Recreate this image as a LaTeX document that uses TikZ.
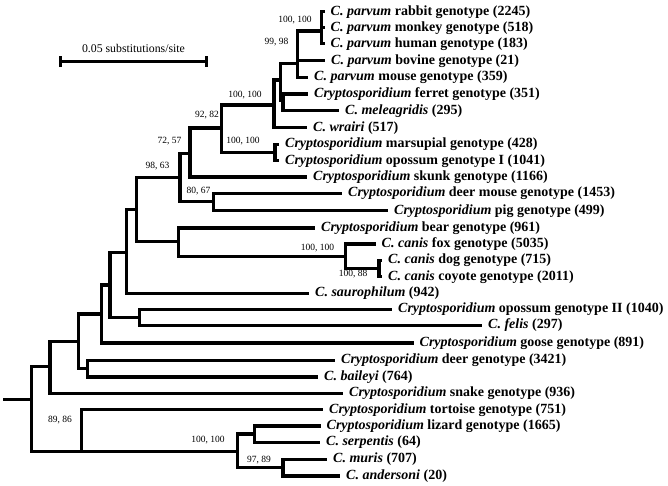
\documentclass[tikz,border=0pt]{standalone}
\usepackage{fontspec}
\setmainfont{Liberation Serif}
\usetikzlibrary{arrows.meta}

\tikzset{
	leaf/.style={anchor=west, inner xsep=6pt, inner ysep=0pt, font=\bfseries\fontsize{14}{14}\selectfont},
	boot/.style={inner sep=0pt, font=\fontsize{9.5}{10}\selectfont},
	branch/.style={line width=3.1pt}
}

\begin{document}
\begin{tikzpicture}[x=1pt,y=-1pt]
		\useasboundingbox[fill=white] (0,0) rectangle (668,486);

		% scale bar
		\coordinate (barL) at (59,61.7);
		\coordinate (barR) at (208,61.7);
		\node[inner sep=0pt, font=\fontsize{11.8}{12}\selectfont] (barlabel) at (133.5,48) {0.05 substitutions/site};

		% inner nodes of the tree
		\coordinate (stem) at (3,399.3);
		\coordinate (nRoot) at (31.7,399.3);
		\coordinate (nM) at (50,366.7);
		\coordinate (nL) at (78.3,341.7);
		\coordinate (nK) at (101.3,314);
		\coordinate (nJ) at (110,285);
		\coordinate (nI) at (126.7,252.3);
		\coordinate (nH) at (136.7,209.3);
		\coordinate (nF) at (180,177.3);
		\coordinate (nE) at (190,153.3);
		\coordinate (nD) at (221.7,128);
		\coordinate (nC) at (274,105);
		\coordinate (nB) at (280.5,80);
		\coordinate (nParvum) at (297.5,63.3);
		\coordinate (nRmh) at (321.7,31);
		\coordinate (nFm) at (283,100);
		\coordinate (nMars) at (275,152.5);
		\coordinate (nDp) at (213.3,201.7);
		\coordinate (nG) at (178.3,241.7);
		\coordinate (nCanis) at (345.7,256.7);
		\coordinate (nDc) at (379,268.3);
		\coordinate (nOf) at (139.3,317.5);
		\coordinate (nDb) at (87.3,368.7);
		\coordinate (nO) at (81.7,451.5);
		\coordinate (nN) at (237.5,451.5);
		\coordinate (nLs) at (254.5,434);
		\coordinate (nMa) at (283,467.5);

		% leaves
		\node[leaf] (rabbit) at (324.5,11.7) {\textit{C. parvum} rabbit genotype (2245)};
		\node[leaf] (monkey) at (324.5,27.8) {\textit{C. parvum} monkey genotype (518)};
		\node[leaf] (human) at (324.5,43.8) {\textit{C. parvum} human genotype (183)};
		\node[leaf] (bovine) at (325,60.7) {\textit{C. parvum} bovine genotype (21)};
		\node[leaf] (mouse) at (308,77.3) {\textit{C. parvum} mouse genotype (359)};
		\node[leaf] (ferret) at (308,94) {\textit{Cryptosporidium} ferret genotype (351)};
		\node[leaf] (meleagridis) at (339,110.8) {\textit{C. meleagridis} (295)};
		\node[leaf] (wrairi) at (307,127.7) {\textit{C. wrairi} (517)};
		\node[leaf] (marsupial) at (279,144.5) {\textit{Cryptosporidium} marsupial genotype (428)};
		\node[leaf] (opossumI) at (279,160.7) {\textit{Cryptosporidium} opossum genotype I (1041)};
		\node[leaf] (skunk) at (307,177) {\textit{Cryptosporidium} skunk genotype (1166)};
		\node[leaf] (deermouse) at (342,193.5) {\textit{Cryptosporidium} deer mouse genotype (1453)};
		\node[leaf] (pig) at (388,210.7) {\textit{Cryptosporidium} pig genotype (499)};
		\node[leaf] (bear) at (315,228) {\textit{Cryptosporidium} bear genotype (961)};
		\node[leaf] (fox) at (375.5,244) {\textit{C. canis} fox genotype (5035)};
		\node[leaf] (dog) at (382,260.5) {\textit{C. canis} dog genotype (715)};
		\node[leaf] (coyote) at (382,276.7) {\textit{C. canis} coyote genotype (2011)};
		\node[leaf] (saurophilum) at (309,293.5) {\textit{C. saurophilum} (942)};
		\node[leaf] (opossumII) at (392,309.5) {\textit{Cryptosporidium} opossum genotype II (1040)};
		\node[leaf] (felis) at (482,325.5) {\textit{C. felis} (297)};
		\node[leaf] (goose) at (413.5,343) {\textit{Cryptosporidium} goose genotype (891)};
		\node[leaf] (deer) at (335,360.5) {\textit{Cryptosporidium} deer genotype (3421)};
		\node[leaf] (baileyi) at (318,377) {\textit{C. baileyi} (764)};
		\node[leaf] (snake) at (343,393.5) {\textit{Cryptosporidium} snake genotype (936)};
		\node[leaf] (tortoise) at (323,409.8) {\textit{Cryptosporidium} tortoise genotype (751)};
		\node[leaf] (lizard) at (320.5,426) {\textit{Cryptosporidium} lizard genotype (1665)};
		\node[leaf] (serpentis) at (320,442.5) {\textit{C. serpentis} (64)};
		\node[leaf] (muris) at (327,459.3) {\textit{C. muris} (707)};
		\node[leaf] (andersoni) at (340,476) {\textit{C. andersoni} (20)};

		% bootstrap values
		\node[boot] (bsRmh) at (295,20.5) {100, 100};
		\node[boot] (bsParvum) at (276.5,42) {99, 98};
		\node[boot] (bsC) at (245,95) {100, 100};
		\node[boot] (bsD) at (207,115) {92, 82};
		\node[boot] (bsMars) at (243,141) {100, 100};
		\node[boot] (bsE) at (169.5,141.5) {72, 57};
		\node[boot] (bsF) at (157.5,166.5) {98, 63};
		\node[boot] (bsDp) at (198.5,191.5) {80, 67};
		\node[boot] (bsCanis) at (317.5,248) {100, 100};
		\node[boot] (bsDc) at (353,274) {100, 88};
		\node[boot] (bsO) at (60,420) {89, 86};
		\node[boot] (bsN) at (208,440.5) {100, 100};
		\node[boot] (bsMa) at (259,460) {97, 89};

		\begin{scope}[branch]
			\draw[{Bar[width=11pt]}-{Bar[width=11pt]}] (barL) -- (barR);

			\draw (stem) -- (nRoot);
			\draw (nRoot) |- (nM);
			\draw (nRoot) |- (nO);
			\draw (nM) |- (nL);
			\draw (nM) |- (snake.west);
			\draw (nL) |- (nK);
			\draw (nL) |- (nDb);
			\draw (nDb) |- (deer.west);
			\draw (nDb) |- (baileyi.west);
			\draw (nK) |- (nJ);
			\draw (nK) |- (goose.west);
			\draw (nJ) |- (nI);
			\draw (nJ) |- (nOf);
			\draw (nOf) |- (opossumII.west);
			\draw (nOf) |- (felis.west);
			\draw (nI) |- (nH);
			\draw (nI) |- (saurophilum.west);
			\draw (nH) |- (nF);
			\draw (nH) |- (nG);
			\draw (nG) |- (bear.west);
			\draw (nG) |- (nCanis);
			\draw (nCanis) |- (fox.west);
			\draw (nCanis) |- (nDc);
			\draw (nDc) |- (dog.west);
			\draw (nDc) |- (coyote.west);
			\draw (nF) |- (nE);
			\draw (nF) |- (nDp);
			\draw (nDp) |- (deermouse.west);
			\draw (nDp) |- (pig.west);
			\draw (nE) |- (nD);
			\draw (nE) |- (skunk.west);
			\draw (nD) |- (nC);
			\draw (nD) |- (nMars);
			\draw (nMars) |- (marsupial.west);
			\draw (nMars) |- (opossumI.west);
			\draw (nC) |- (nB);
			\draw (nC) |- (wrairi.west);
			\draw (nB) |- (nParvum);
			\draw (nB) |- (nFm);
			\draw (nFm) |- (ferret.west);
			\draw (nFm) |- (meleagridis.west);
			\draw (nParvum) |- (nRmh);
			\draw (nParvum) |- (bovine.west);
			\draw (nParvum) |- (mouse.west);
			\draw (nRmh) |- (rabbit.west);
			\draw (nRmh) |- (monkey.west);
			\draw (nRmh) |- (human.west);
			\draw (nO) |- (tortoise.west);
			\draw (nO) |- (nN);
			\draw (nN) |- (nLs);
			\draw (nN) |- (nMa);
			\draw (nLs) |- (lizard.west);
			\draw (nLs) |- (serpentis.west);
			\draw (nMa) |- (muris.west);
			\draw (nMa) |- (andersoni.west);
		\end{scope}

	\end{tikzpicture}
\end{document}
